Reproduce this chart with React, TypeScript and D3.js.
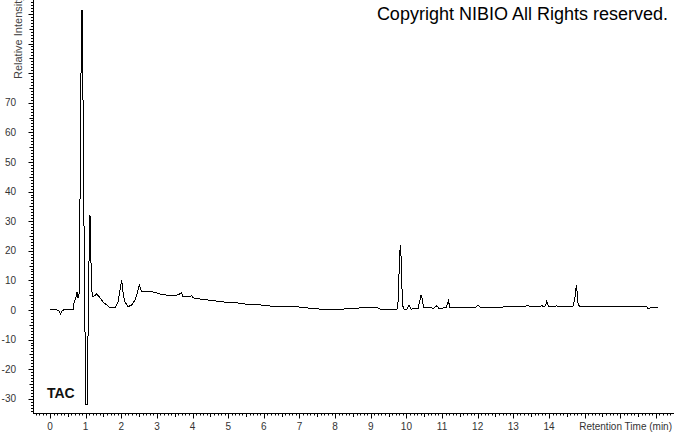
import React from "react";
import * as d3 from "d3";

const times: number[] = [
  0.0, 0.2, 0.25, 0.295, 0.337, 0.38, 0.645, 0.673, 0.73, 0.758, 0.786, 0.814,
  0.842, 0.864, 0.884, 0.9, 0.926, 0.948, 0.974, 1.01, 1.044, 1.075, 1.103, 1.122,
  1.145, 1.164, 1.206, 1.235, 1.31, 1.403, 1.487, 1.591, 1.684, 1.824, 1.908, 1.964,
  2.012, 2.057, 2.104, 2.189, 2.292, 2.385, 2.45, 2.506, 2.573, 2.618, 2.89, 3.086,
  3.367, 3.59, 3.695, 3.73, 3.93, 3.976, 4.01, 4.21, 4.677, 4.958, 5.33, 5.52,
  5.89, 5.98, 6.92, 7.3, 7.66, 8.14, 8.5, 8.78, 9.18, 9.26, 9.736, 9.773,
  9.79, 9.82, 9.84, 9.87, 9.89, 9.93, 10.02, 10.07, 10.13, 10.33, 10.38, 10.41,
  10.45, 10.48, 10.77, 10.85, 10.91, 11.11, 11.18, 11.22, 11.95, 12.01, 12.07, 13.33,
  13.39, 13.47, 13.75, 13.8, 13.83, 13.9, 13.94, 13.97, 14.0, 14.18, 14.22, 14.25,
  14.67, 14.72, 14.75, 14.77, 14.79, 14.81, 14.86, 16.74, 16.77, 16.83, 16.86, 17.06,
];

const intensity: number[] = [
  0, 0, -0.3, -1.4, -0.3, 0, 0, 2.4, 4.4, 5.9, 4.0, 5.0,
  37, 70, 101, 101, 71, 37, 0, -32, -32, 0, 23.6, 32,
  20, 6.8, 4.4, 4.7, 5.4, 4.1, 2.7, 1.7, 0.7, 0.8, 2.7, 6.8,
  10.1, 5.1, 2.8, 1.1, 1.7, 3.4, 5.7, 8.4, 6.2, 6.1, 6.1, 5.4,
  4.8, 5.1, 5.8, 4.5, 4.5, 4.9, 4.1, 3.7, 3.0, 2.6, 2.3, 1.9,
  1.9, 1.4, 1.1, 0.6, 0.2, 0.2, 0.6, 0.7, 0.8, 0.3, 0.3, 3.4,
  11.1, 20.3, 22, 10.1, 1.7, 0.3, 0.3, 1.7, 0.3, 0.5, 3.4, 5.1,
  3.4, 0.9, 0.6, 1.4, 0.6, 0.7, 3.0, 0.9, 0.9, 1.7, 0.9, 1.1,
  1.7, 1.1, 1.1, 1.7, 1.1, 1.4, 3.0, 1.7, 1.1, 1.1, 1.5, 1.1,
  1.1, 3.4, 6.4, 8.4, 6.1, 2.4, 1.1, 1.1, 0.6, 0.6, 0.8, 0.8,
];

const xTickLabels: number[] = [0, 1, 2, 3, 4, 5, 6, 7, 8, 9, 10, 11, 12, 13, 14];
const yTickLabels: number[] = [-30, -20, -10, 0, 10, 20, 30, 40, 50, 60, 70];

const xTitle = "Retention Time (min)";
const yTitle = "Relative Intensity";
const traceLabel = "TAC";
const copyright = "Copyright NIBIO All Rights reserved.";

const W = 674;
const H = 434;
const FONT = "Arial, 'Liberation Sans', sans-serif";

export default function App() {
  const axisLeft = 33;
  const axisRight = 672;
  const axisBottom = 413;
  const axisTop = 0;

  const x = d3
    .scaleLinear()
    .domain([-17 / 35.64, (axisRight - 50) / 35.64])
    .range([axisLeft, axisRight]);
  const y = d3.scaleLinear().domain([-34.8, 104.7]).range([axisBottom, axisTop]);

  const pts: [number, number][] = times.map((t, i) => [t, intensity[i]]);
  const line = d3
    .line<[number, number]>()
    .x((d) => x(d[0]))
    .y((d) => y(d[1]));

  const xMinor: number[] = [];
  for (let k = -4; k <= 174; k++) {
    const t = k / 10;
    if (x(t) >= axisLeft && x(t) <= axisRight) xMinor.push(k);
  }
  const yMinor: number[] = [];
  for (let v = -34; v <= 104; v++) yMinor.push(v);

  return (
    <svg
      width={W}
      height={H}
      style={{ position: "absolute", left: 0, top: 0, background: "#fff" }}
    >
      <rect x={0} y={0} width={W} height={H} fill="#fff" />
      {/* y axis */}
      <line x1={axisLeft + 0.5} x2={axisLeft + 0.5} y1={axisTop} y2={axisBottom} stroke="#000" />
      {yMinor.map((v) => {
        const len = v % 10 === 0 ? 5 : v % 5 === 0 ? 4 : 2.5;
        const yy = Math.round(y(v)) + 0.5;
        return (
          <line key={"yt" + v} x1={axisLeft + 0.5 - len} x2={axisLeft + 0.5} y1={yy} y2={yy} stroke="#000" />
        );
      })}
      {yTickLabels.map((v) => (
        <text
          key={"yl" + v}
          x={16}
          y={y(v) + 3.6}
          textAnchor="end"
          fontFamily={FONT}
          fontSize={10}
          fill="#333"
        >
          {v}
        </text>
      ))}
      <text
        transform={`translate(22,79) rotate(-90)`}
        fontFamily={FONT}
        fontSize={11}
        fill="#444"
      >
        {yTitle}
      </text>
      {/* x axis */}
      <line x1={axisLeft} x2={axisRight + 2} y1={axisBottom + 0.5} y2={axisBottom + 0.5} stroke="#000" />
      {xMinor.map((k) => {
        const len = k % 10 === 0 ? 5 : k % 5 === 0 ? 3.5 : 2;
        const xx = Math.round(x(k / 10)) + 0.5;
        return (
          <line key={"xt" + k} x1={xx} x2={xx} y1={axisBottom + 0.5} y2={axisBottom + 0.5 + len} stroke="#000" />
        );
      })}
      {xTickLabels.map((t) => (
        <text
          key={"xl" + t}
          x={x(t)}
          y={430}
          textAnchor="middle"
          fontFamily={FONT}
          fontSize={10}
          fill="#333"
        >
          {t}
        </text>
      ))}
      <text x={672} y={430} textAnchor="end" fontFamily={FONT} fontSize={10} fill="#333">
        {xTitle}
      </text>
      {/* trace */}
      <path
        d={line(pts) || ""}
        fill="none"
        stroke="#000"
        strokeWidth={1}
        shapeRendering="crispEdges"
      />
      <text x={47} y={398} fontFamily={FONT} fontSize={14} fontWeight="bold" fill="#111">
        {traceLabel}
      </text>
      <text x={668} y={20} textAnchor="end" fontFamily={FONT} fontSize={18} fill="#000">
        {copyright}
      </text>
    </svg>
  );
}
